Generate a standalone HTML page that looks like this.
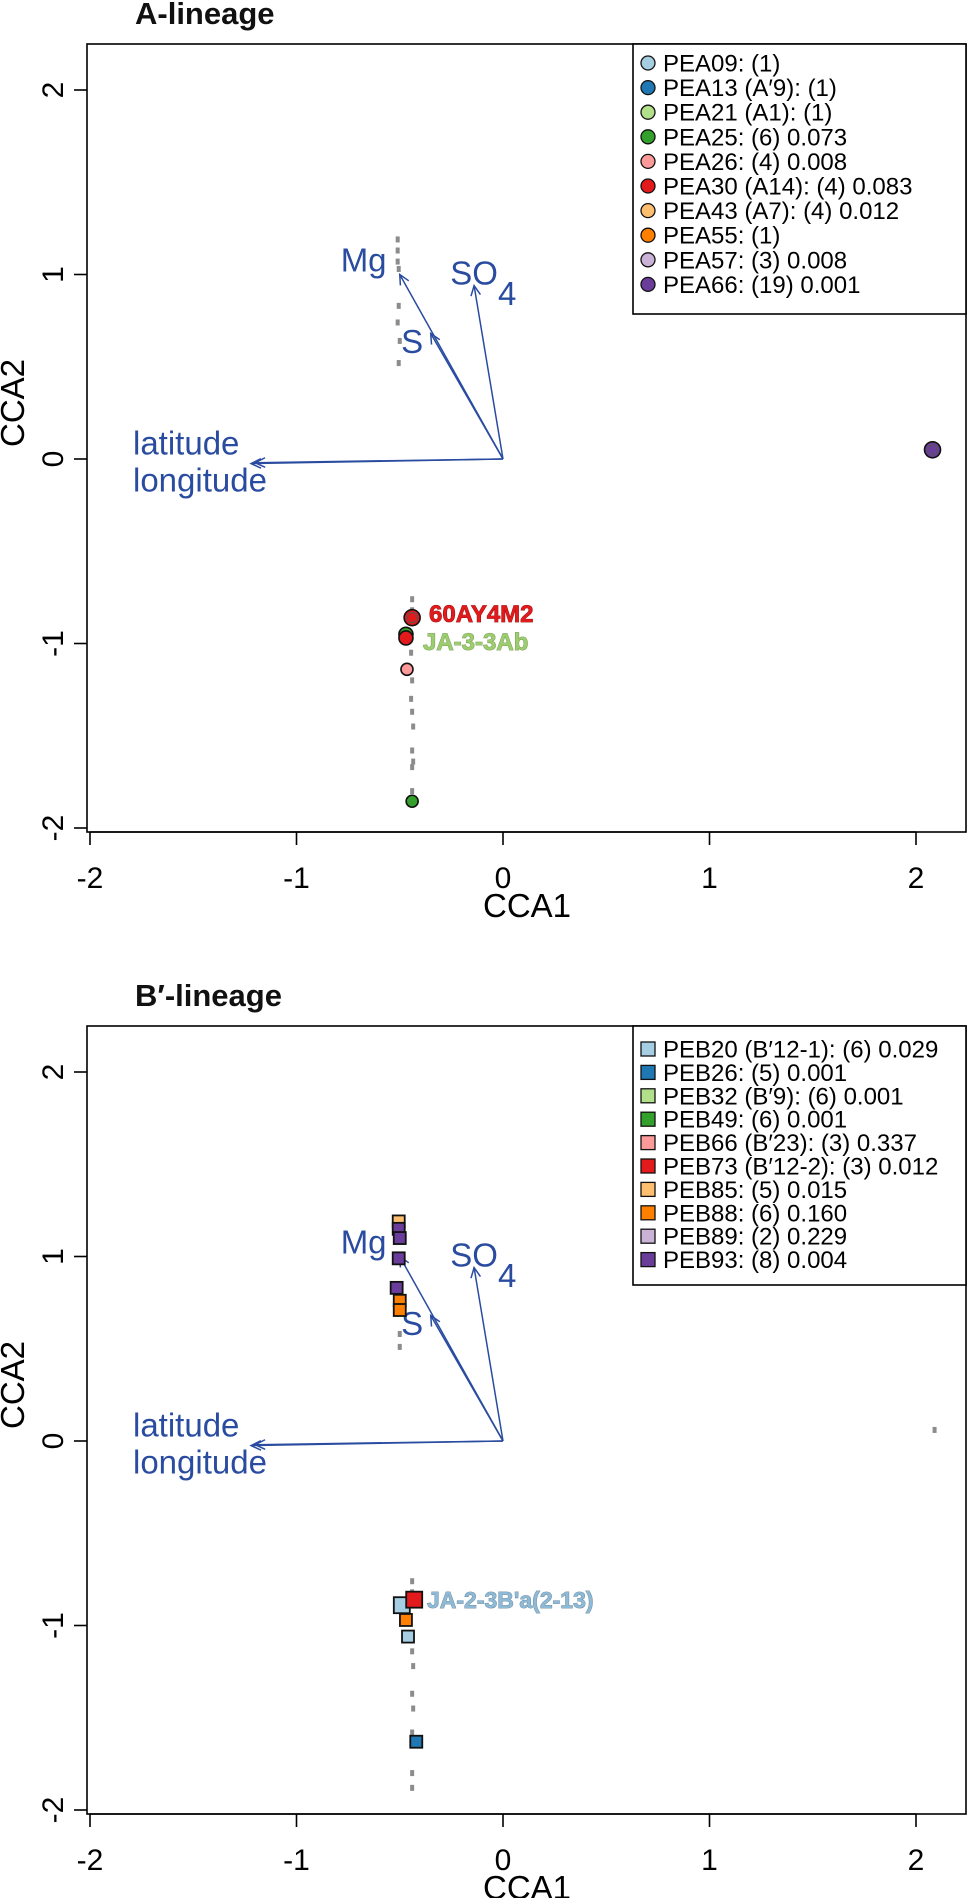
<!DOCTYPE html>
<html><head><meta charset="utf-8"><style>
html,body{margin:0;padding:0;background:#fff}
svg{display:block;font-family:"Liberation Sans",Arial,sans-serif}
</style></head><body>
<svg id="fig" width="968" height="1898" viewBox="0 0 968 1898" xmlns="http://www.w3.org/2000/svg"></svg>
<script>
// ---- shared data ----
const xTicks = [-2, -1, 0, 1, 2];
const yTicks = [-2, -1, 0, 1, 2];
const palette = ["#a6cee3","#1f78b4","#b2df8a","#33a02c","#fb9a99","#e31a1c","#fdbf6f","#ff7f00","#cab2d6","#6a3d9a"];
const envNames = ["latitude","longitude","Mg","S","SO4"];
const envX = [-1.20, -1.22, -0.50, -0.35, -0.14];
const envY = [-0.02, -0.025, 1.00, 0.68, 0.94];

// ---- A-lineage ----
const legendA = ["PEA09: (1)","PEA13 (A\u20329): (1)","PEA21 (A1): (1)","PEA25: (6) 0.073","PEA26: (4) 0.008","PEA30 (A14): (4) 0.083","PEA43 (A7): (4) 0.012","PEA55: (1)","PEA57: (3) 0.008","PEA66: (19) 0.001"];
const ptsAx = [2.08, -0.47, -0.47, -0.44, -0.465, -0.44];
const ptsAy = [0.05, -0.95, -0.97, -0.86, -1.14, -1.855];
const ptsAc = [9, 3, 5, 5, 4, 3];
const ptsAr = [8, 7, 7, 8, 6, 6];
const grayAx = [-0.51,-0.51,-0.51,-0.505,-0.505,-0.51,-0.50,-0.505,-0.44,-0.44,-0.445,-0.44,-0.445,-0.44,-0.435,-0.44,-0.435,-0.44,-0.44];
const grayAy = [1.19,1.13,1.07,1.03,0.83,0.74,0.64,0.52,-0.76,-0.82,-1.05,-1.20,-1.30,-1.37,-1.45,-1.58,-1.64,-1.67,-1.80];

// ---- B'-lineage ----
const legendB = ["PEB20 (B\u203212-1): (6) 0.029","PEB26: (5) 0.001","PEB32 (B\u20329): (6) 0.001","PEB49: (6) 0.001","PEB66 (B\u203223): (3) 0.337","PEB73 (B\u203212-2): (3) 0.012","PEB85: (5) 0.015","PEB88: (6) 0.160","PEB89: (2) 0.229","PEB93: (8) 0.004"];
const ptsBx = [-0.505,-0.505,-0.50,-0.505,-0.515,-0.50,-0.50,-0.49,-0.43,-0.47,-0.46,-0.42];
const ptsBy = [1.19,1.15,1.10,0.99,0.83,0.76,0.71,-0.89,-0.86,-0.97,-1.06,-1.63];
const ptsBc = [6,9,9,9,9,7,7,0,5,7,0,1];
const ptsBs = [12,12,12,12,12,12,12,16,16,12,12,12];
const grayBx = [-0.50,-0.50,-0.44,-0.44,-0.44,-0.435,-0.44,-0.435,-0.44,-0.44,-0.44,-0.44,2.09];
const grayBy = [0.58,0.51,-0.76,-0.82,-1.14,-1.22,-1.37,-1.45,-1.58,-1.64,-1.80,-1.88,0.06];

const NS = "http://www.w3.org/2000/svg";
const svg = document.getElementById("fig");
function mk(tag, attrs, parent, txt){
  const e = document.createElementNS(NS, tag);
  for (const k in attrs) e.setAttribute(k, attrs[k]);
  if (txt !== undefined) e.textContent = txt;
  parent.appendChild(e);
  return e;
}

function drawPlot(off, title, legend, shape, px, py, pc, psz, gx, gy, labels){
  const g = mk("g", {}, svg);
  
  
  const sx = v => 503 + v * 206.5;
  const sy = v => 459 + off - v * 184.5;
  const L = 87, T = 44 + off, R = 966, B = 832 + off;

  const t = mk("text", {x:135, y:24 + off, "font-size":31, "font-weight":"bold", fill:"#111"}, g, title);
  
  

  const box = mk("rect", {x:L, y:T, width:R-L, height:B-T, fill:"none", stroke:"#000", "stroke-width":1.6}, g);
  
  

  // x axis
  const xa = mk("g", {}, g);
  
  
  mk("line", {x1:sx(-2), x2:sx(2), y1:B, y2:B, stroke:"#000", "stroke-width":1.6}, xa);
  xTicks.forEach(v => {
    mk("line", {x1:sx(v), x2:sx(v), y1:B, y2:B+13, stroke:"#000", "stroke-width":1.6}, xa);
    const tl = mk("text", {x:sx(v), y:B+56, "font-size":30, "text-anchor":"middle"}, xa, String(v));
    
    
  });
  const xt = mk("text", {x:527, y:917 + off, "font-size":33, "text-anchor":"middle"}, g, "CCA1");
  
  

  // y axis
  const ya = mk("g", {}, g);
  
  
  yTicks.forEach(v => {
    mk("line", {x1:L-13, x2:L, y1:sy(v), y2:sy(v), stroke:"#000", "stroke-width":1.6}, ya);
    const tl = mk("text", {x:0, y:0, "font-size":30, "text-anchor":"middle", transform:`translate(63,${sy(v)}) rotate(-90)`}, ya, String(v));
    
    
  });
  const yt = mk("text", {x:0, y:0, "font-size":33, "text-anchor":"middle", transform:`translate(24,${403+off}) rotate(-90)`}, g, "CCA2");
  
  

  // gray site markers
  gx.forEach((v,i) => {
    const d = mk("rect", {x:sx(v)-2, y:sy(gy[i])-3, width:4, height:6, fill:"#8c8c8c"}, g);
    
    
  });

  // env arrows
  const blue = "#2a4ca0";
  envX.forEach((v,i) => {
    const x2 = sx(v), y2 = sy(envY[i]), x1 = sx(0), y1 = sy(0);
    const a = Math.atan2(y2-y1, x2-x1), h = 11;
    const ag = mk("g", {stroke:blue, "stroke-width":1.5, fill:"none"}, g);
    
    
    mk("line", {x1, y1, x2, y2}, ag);
    mk("polyline", {points:`${x2-h*Math.cos(a-0.45)},${y2-h*Math.sin(a-0.45)} ${x2},${y2} ${x2-h*Math.cos(a+0.45)},${y2-h*Math.sin(a+0.45)}`}, ag);
  });
  const lbl = (txt, x, y, name, anchor) => {
    const e = mk("text", {x, y, "font-size":33, fill:blue, "text-anchor":anchor||"middle"}, g, txt);
    
    
  };
  lbl("latitude", 133, sy(0.09)+12, "latitude-label", "start");
  lbl("longitude", 133, sy(-0.11)+12, "longitude-label", "start");
  lbl("Mg", sx(-0.675), sy(1.08)+12, "mg-label");
  lbl("SO", sx(-0.14), sy(1.01)+12, "so4-label");
  lbl("4", sx(0.02), sy(0.90)+12, "so4-subscript");
  lbl("S", sx(-0.44), sy(0.64)+12, "s-label");

  // points
  px.forEach((v,i) => {
    let p;
    if (shape === "circle") {
      p = mk("circle", {cx:sx(v), cy:sy(py[i]), r:psz[i], fill:palette[pc[i]], stroke:"#111", "stroke-width":1.6}, g);
      if (psz[i] >= 8) mk("circle", {cx:sx(v), cy:sy(py[i]), r:psz[i]-3, fill:"none", stroke:"#555", "stroke-width":1}, g);
    } else {
      const s = psz[i];
      p = mk("rect", {x:sx(v)-s/2, y:sy(py[i])-s/2, width:s, height:s, fill:palette[pc[i]], stroke:"#111", "stroke-width":1.8}, g);
    }
    
    
  });

  labels.forEach(l => {
    const e = mk("text", {x:l[0], y:l[1]+off, "font-size":l[4], "font-weight":"bold", fill:l[2], stroke:l[3], "stroke-width":0.8, "paint-order":"stroke"}, g, l[5]);
    
    
  });

  // legend
  const lg = mk("g", {}, g);
  
  
  const lh = shape === "circle" ? 270 : 259;
  mk("rect", {x:633, y:T, width:R-633, height:lh, fill:"#fff", stroke:"#000", "stroke-width":1.6}, lg);
  const step = shape === "circle" ? 24.6 : 23.4;
  const y0 = shape === "circle" ? 63 : 1049 - 982;
  legend.forEach((txt,i) => {
    const y = y0 + off + i*step;
    const en = mk("g", {}, lg);
    
    
    if (shape === "circle") mk("circle", {cx:648, cy:y, r:7, fill:palette[i], stroke:"#111", "stroke-width":1.3}, en);
    else mk("rect", {x:641, y:y-7, width:14, height:14, fill:palette[i], stroke:"#111", "stroke-width":1.3}, en);
    mk("text", {x:663, y:y+8.5, "font-size":24}, en, txt);
  });
}

drawPlot(0, "A-lineage", legendA, "circle", ptsAx, ptsAy, ptsAc, ptsAr, grayAx, grayAy,
  [[429, 622, "#e31a1c", "#8a0a0a", 24, "60AY4M2"], [423, 650, "#9ccd6e", "#6a8f45", 24, "JA-3-3Ab"]]);
drawPlot(982, "B\u2032-lineage", legendB, "square", ptsBx, ptsBy, ptsBc, ptsBs, grayBx, grayBy,
  [[427, 626, "#8fbad6", "#5f7f96", 23, "JA-2-3B'a(2-13)"]]);
</script>
</body></html>
